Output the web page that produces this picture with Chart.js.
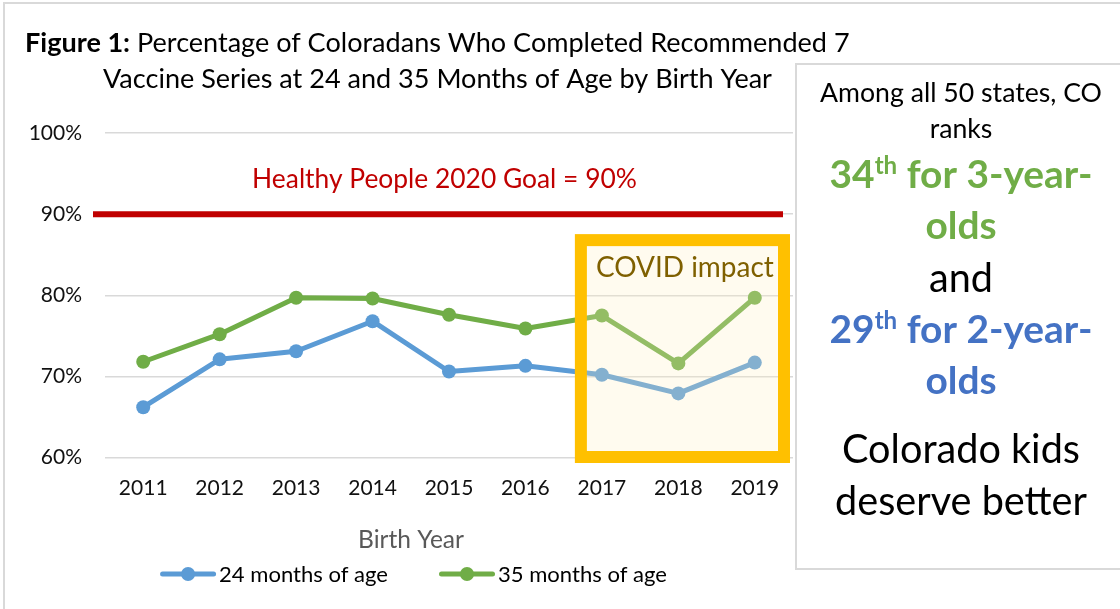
<!DOCTYPE html>
<html>
<head>
<meta charset="utf-8">
<script src="https://cdn.jsdelivr.net/npm/chart.js@4"></script>
<style>
  html, body { margin: 0; padding: 0; background: #fff; }
  canvas { display: block; }
</style>
</head>
<body>
<canvas id="myChart" width="1120" height="609"></canvas>
<script>
const birthYears = ['2011', '2012', '2013', '2014', '2015', '2016', '2017', '2018', '2019'];
const months24 = [66.2, 72.1, 73.1, 76.8, 70.6, 71.3, 70.2, 67.9, 71.7];
const months35 = [71.8, 75.2, 79.7, 79.6, 77.6, 75.9, 77.5, 71.6, 79.7];
const yMin = 60;
const yMax = 100;
const yStep = 10;
const goalValue = 90;
const covidStartIndex = 6;

const FONT = 'Lato, "Open Sans", sans-serif';

function fitSize(ctx, weight, text, target) {
    ctx.font = weight + ' 100px ' + FONT;
    return 100 * target / ctx.measureText(text).width;
}

function drawText(ctx, str, x, y, size, weight, color, align) {
    ctx.font = weight + ' ' + size + 'px ' + FONT;
    ctx.fillStyle = color;
    ctx.textAlign = align || 'left';
    ctx.textBaseline = 'alphabetic';
    ctx.fillText(str, x, y);
}

function rankLine(ctx, num, rest, cx, baseline, size, color) {
    ctx.font = 'bold ' + size + 'px ' + FONT;
    const w1 = ctx.measureText(num).width;
    const w3 = ctx.measureText(rest).width;
    ctx.font = 'bold ' + (size * 0.62) + 'px ' + FONT;
    const w2 = ctx.measureText('th').width;
    let x = cx - (w1 + w2 + w3) / 2;
    drawText(ctx, num, x, baseline, size, 'bold', color);
    drawText(ctx, 'th', x + w1, baseline - size * 0.36, size * 0.62, 'bold', color);
    drawText(ctx, rest, x + w1 + w2, baseline, size, 'bold', color);
}

const decorPlugin = {
    id: 'decor',
    beforeDraw(chart) {
        const ctx = chart.ctx;
        ctx.save();
        ctx.fillStyle = '#ffffff';
        ctx.fillRect(0, 0, chart.width, chart.height);
        ctx.strokeStyle = '#d9d9d9';
        ctx.lineWidth = 2;
        ctx.beginPath();
        ctx.moveTo(4, chart.height);
        ctx.lineTo(4, 3);
        ctx.lineTo(chart.width, 3);
        ctx.stroke();
        ctx.restore();
    },
    afterDatasetsDraw(chart) {
        const ctx = chart.ctx;
        const x = chart.scales.x;
        const y = chart.scales.y;
        const area = chart.chartArea;
        ctx.save();

        // goal line
        const gy = y.getPixelForValue(goalValue);
        ctx.strokeStyle = '#c00000';
        ctx.lineWidth = 6;
        ctx.beginPath();
        ctx.moveTo(93, gy);
        ctx.lineTo(area.right - 10, gy);
        ctx.stroke();
        drawText(ctx, 'Healthy People 2020 Goal = 90%', 444.5, gy - 26,
            fitSize(ctx, 'normal', 'Healthy People 2020 Goal = 90%', 385), 'normal', '#c00000', 'center');

        // COVID box
        const left = x.getPixelForValue(covidStartIndex) - 27;
        const right = area.right - 3;
        const top = gy + 20;
        const bottom = area.bottom + 5.5;
        ctx.fillStyle = 'rgba(255, 238, 190, 0.25)';
        ctx.fillRect(left, top, right - left, bottom - top);
        ctx.strokeStyle = '#ffc000';
        ctx.lineWidth = 12;
        ctx.strokeRect(left + 6, top + 6, right - left - 12, bottom - top - 12);
        drawText(ctx, 'COVID impact', left + 21, top + 43,
            fitSize(ctx, 'normal', 'COVID impact', 178), 'normal', '#7f6000', 'left');
        ctx.restore();
    },
    afterDraw(chart) {
        const ctx = chart.ctx;
        ctx.save();

        // title
        const t1b = 'Figure 1:';
        const t1n = ' Percentage of Coloradans Who Completed Recommended 7';
        ctx.font = 'bold 100px ' + FONT;
        const wb = ctx.measureText(t1b).width;
        ctx.font = 'normal 100px ' + FONT;
        const wn = ctx.measureText(t1n).width;
        const ts = 100 * 825 / (wb + wn);
        const tx = 437.5 - 825 / 2;
        drawText(ctx, t1b, tx, 52, ts, 'bold', '#000');
        drawText(ctx, t1n, tx + wb * ts / 100, 52, ts, 'normal', '#000');
        drawText(ctx, 'Vaccine Series at 24 and 35 Months of Age by Birth Year', 437.5, 88, ts, 'normal', '#000', 'center');

        // axis title
        drawText(ctx, 'Birth Year', 411, 548, fitSize(ctx, 'normal', 'Birth Year', 106), 'normal', '#595959', 'center');

        // legend
        const ls = fitSize(ctx, 'normal', '24 months of age', 169);
        ctx.font = 'normal ' + ls + 'px ' + FONT;
        const sample = 56, gapText = 3, gapItem = 51;
        const items = chart.data.datasets.map(d => ({ label: d.label, color: d.borderColor, w: ctx.measureText(d.label).width }));
        const total = items.reduce((s, it) => s + sample + gapText + it.w, 0) + gapItem * (items.length - 1);
        let lx = 413.5 - total / 2;
        const ly = 574;
        items.forEach(it => {
            ctx.strokeStyle = it.color;
            ctx.lineWidth = 5;
            ctx.lineCap = 'round';
            ctx.beginPath();
            ctx.moveTo(lx + 2.5, ly);
            ctx.lineTo(lx + sample - 2.5, ly);
            ctx.stroke();
            ctx.fillStyle = it.color;
            ctx.beginPath();
            ctx.arc(lx + sample / 2, ly, 7, 0, Math.PI * 2);
            ctx.fill();
            drawText(ctx, it.label, lx + sample + gapText, 582, ls, 'normal', '#000');
            lx += sample + gapText + it.w + gapItem;
        });

        // side box
        ctx.lineCap = 'butt';
        ctx.strokeStyle = '#d9d9d9';
        ctx.lineWidth = 2;
        ctx.strokeRect(796, 64, 400, 505);
        const cx = 961;
        const small = fitSize(ctx, 'normal', 'Among all 50 states, CO', 282);
        drawText(ctx, 'Among all 50 states, CO', cx, 102, small, 'normal', '#000', 'center');
        drawText(ctx, 'ranks', cx, 138, small, 'normal', '#000', 'center');
        ctx.font = 'bold 100px ' + FONT;
        const rw = ctx.measureText('34').width + ctx.measureText(' for 3-year-').width;
        ctx.font = 'bold 62px ' + FONT;
        const big = 100 * 263 / (rw + ctx.measureText('th').width);
        rankLine(ctx, '34', ' for 3-year-', cx, 188, big, '#70ad47');
        drawText(ctx, 'olds', cx, 239, big, 'bold', '#70ad47', 'center');
        const mid = fitSize(ctx, 'normal', 'deserve better', 252);
        drawText(ctx, 'and', cx, 292, mid, 'normal', '#000', 'center');
        rankLine(ctx, '29', ' for 2-year-', cx, 343, big, '#4472c4');
        drawText(ctx, 'olds', cx, 394, big, 'bold', '#4472c4', 'center');
        drawText(ctx, 'Colorado kids', cx, 463, mid, 'normal', '#000', 'center');
        drawText(ctx, 'deserve better', cx, 515, mid, 'normal', '#000', 'center');
        ctx.restore();
    }
};

const ctx = document.getElementById('myChart').getContext('2d');
const myChart = new Chart(ctx, {
    type: 'line',
    data: {
        labels: birthYears,
        datasets: [
            {
                label: '24 months of age',
                data: months24,
                borderColor: '#5b9bd5',
                backgroundColor: '#5b9bd5',
                borderWidth: 5,
                pointRadius: 7,
                pointBorderWidth: 0,
                borderJoinStyle: 'round',
                borderCapStyle: 'round',
                fill: false,
            },
            {
                label: '35 months of age',
                data: months35,
                borderColor: '#70ad47',
                backgroundColor: '#70ad47',
                borderWidth: 5,
                pointRadius: 7,
                pointBorderWidth: 0,
                borderJoinStyle: 'round',
                borderCapStyle: 'round',
                fill: false,
            },
        ],
    },
    options: {
        responsive: false,
        animation: false,
        devicePixelRatio: 1,
        layout: { padding: { top: 133, right: 327, bottom: 0, left: 0 } },
        plugins: {
            legend: { display: false },
            title: { display: false },
            tooltip: { enabled: false },
        },
        scales: {
            x: {
                offset: true,
                grid: { display: false, drawTicks: false },
                border: { display: false },
                ticks: { padding: 18, color: '#111', font: { family: FONT, size: 21 } },
                afterFit(scale) { scale.height = 151.5; },
            },
            y: {
                min: yMin,
                max: yMax,
                grid: { color: '#d9d9d9', lineWidth: 1.5, drawTicks: false },
                border: { display: false },
                ticks: {
                    stepSize: yStep,
                    padding: 23,
                    color: '#111',
                    font: { family: FONT, size: 21 },
                    callback: v => v + '%',
                },
                afterFit(scale) { scale.width = 105; },
            },
        },
    },
    plugins: [decorPlugin],
});
</script>
</body>
</html>
